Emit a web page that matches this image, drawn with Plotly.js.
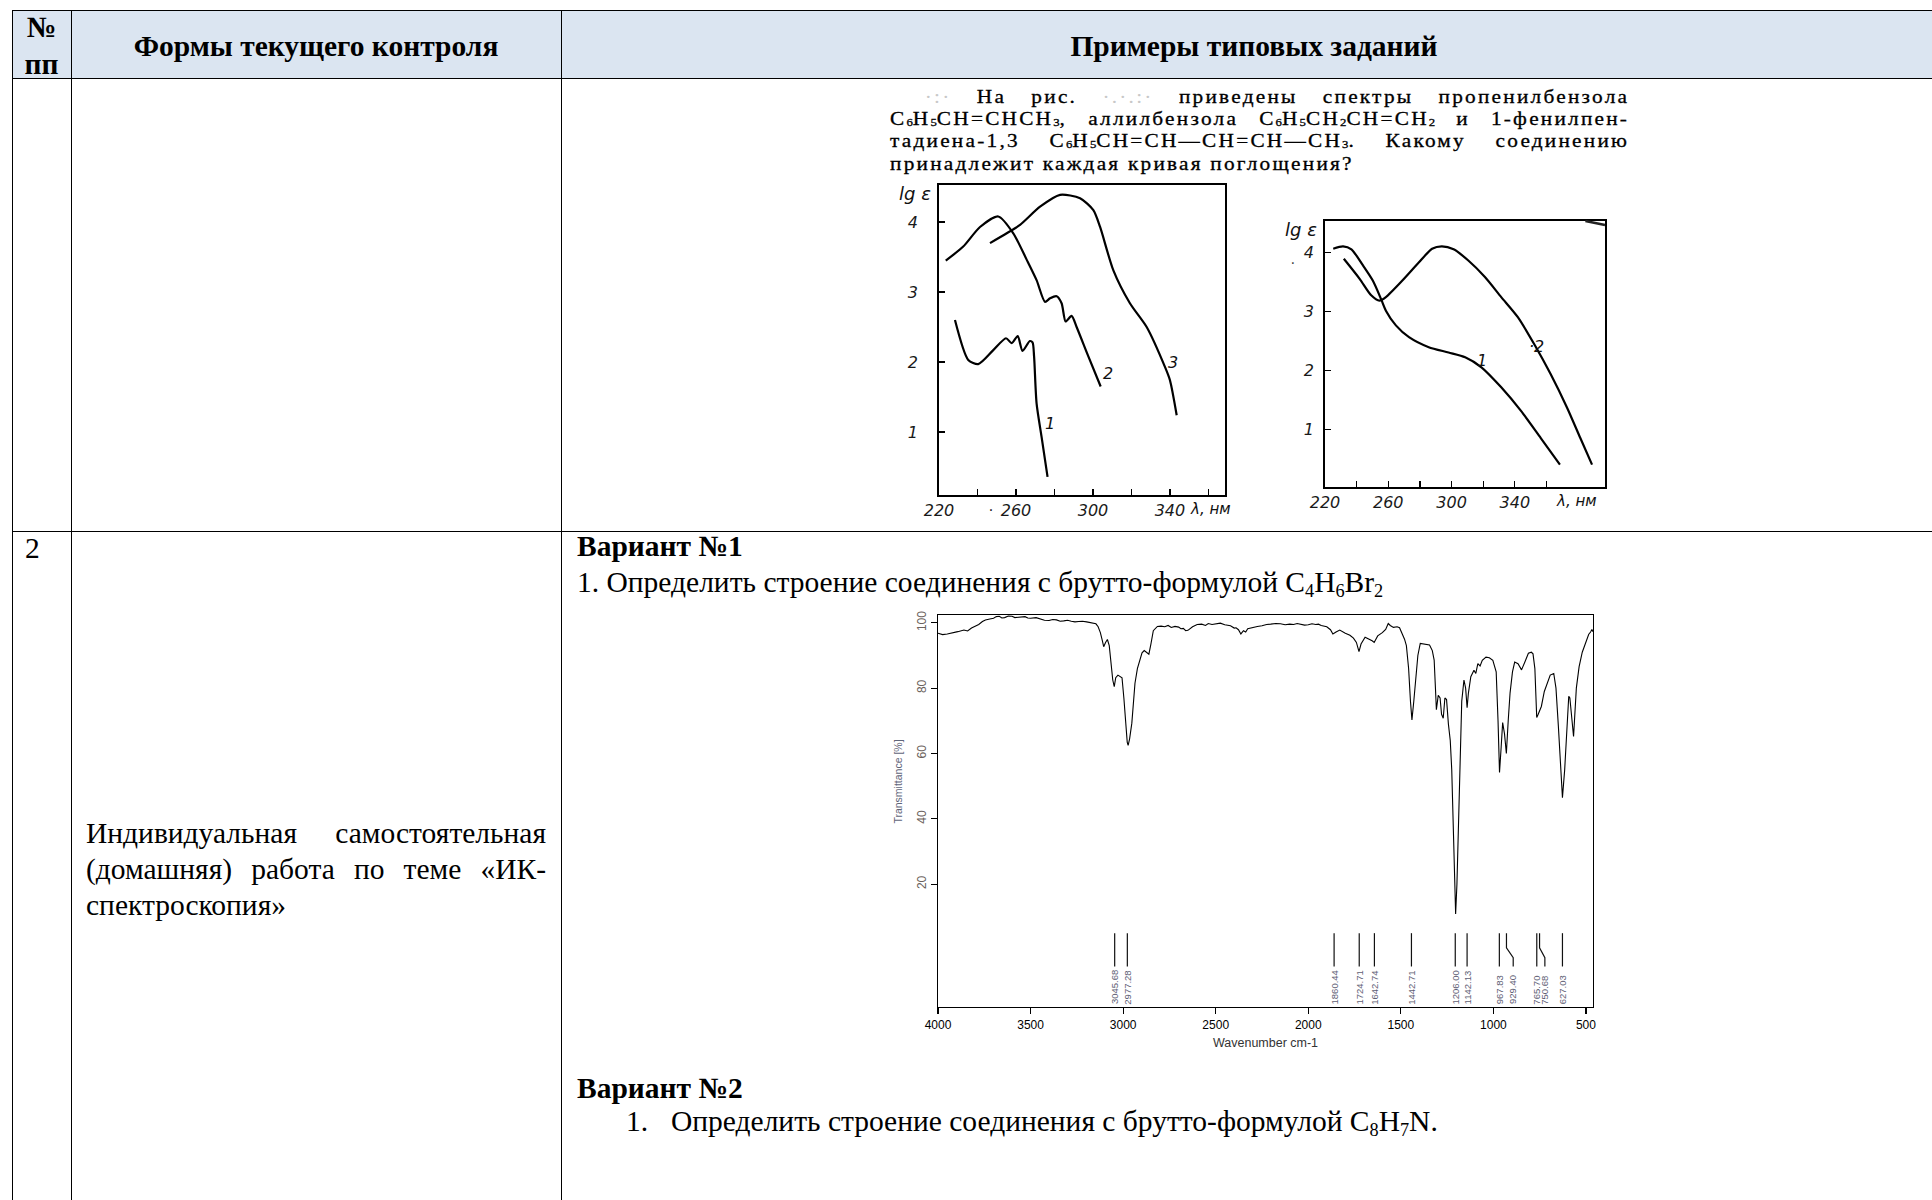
<!DOCTYPE html>
<html><head><meta charset="utf-8">
<script src="https://cdn.plot.ly/plotly-3.0.1.min.js"></script>
<style>
html,body{margin:0;padding:0;background:#fff;width:1932px;height:1200px;overflow:hidden;position:relative;}
.ln{position:absolute;background:#000;}
.t{position:absolute;white-space:nowrap;font-family:'Liberation Serif','Times New Roman',serif;font-size:29.5px;line-height:36px;color:#000;}
.b{font-weight:bold;}
.jl{position:absolute;font-family:'Liberation Serif','Times New Roman',serif;font-size:29.5px;line-height:36px;text-align:justify;text-align-last:justify;color:#000;}
.q{position:absolute;left:890px;width:660px;transform:scaleX(1.12);transform-origin:0 0;font-family:'Liberation Serif','Times New Roman',serif;font-size:19px;line-height:21px;letter-spacing:2px;text-align:justify;text-align-last:justify;color:#000;-webkit-text-stroke:0.3px #000;}
.q sub{font-size:60%;vertical-align:-0.1em;line-height:0;letter-spacing:0;}
sub{font-size:62%;vertical-align:-0.28em;line-height:0;letter-spacing:0;}
.faint{color:#c8c8c8;-webkit-text-stroke:0;}
.chart{position:absolute;}
</style>
</head><body>
<!-- table frame -->
<div style="position:absolute;left:12px;top:10px;width:1940px;height:68px;background:#dbe5f1;"></div>
<div class="ln" style="left:12px;top:10px;width:1920px;height:1px;"></div>
<div class="ln" style="left:12px;top:78px;width:1920px;height:1px;"></div>
<div class="ln" style="left:12px;top:531px;width:1920px;height:1px;"></div>
<div class="ln" style="left:12px;top:10px;width:1px;height:1190px;"></div>
<div class="ln" style="left:71px;top:10px;width:1px;height:1190px;"></div>
<div class="ln" style="left:561px;top:10px;width:1px;height:1190px;"></div>

<!-- header -->
<div class="t b" style="left:12px;width:59px;text-align:center;top:9px;">№</div>
<div class="t b" style="left:12px;width:59px;text-align:center;top:46px;">пп</div>
<div class="t b" style="left:71px;width:490px;text-align:center;top:28px;">Формы текущего контроля</div>
<div class="t b" style="left:561px;width:1386px;text-align:center;top:28px;">Примеры типовых заданий</div>

<!-- row 1: question text -->
<div class="q" style="top:86px;text-indent:31px;"><span class="faint">·:·</span> На рис. <span class="faint">·.·.:·</span> приведены спектры пропенилбензола</div>
<div class="q" style="top:108px;">C<sub>6</sub>H<sub>5</sub>CH=CHCH<sub>3</sub>, аллилбензола C<sub>6</sub>H<sub>5</sub>CH<sub>2</sub>CH=CH<sub>2</sub> и 1-фенилпен-</div>
<div class="q" style="top:130px;">тадиена-1,3 C<sub>6</sub>H<sub>5</sub>CH=CH—CH=CH—CH<sub>3</sub>. Какому соединению</div>
<div class="q" style="top:153px;text-align-last:left;">принадлежит каждая кривая поглощения?</div>

<div id="uvA" class="chart" style="left:880px;top:150px;width:380px;height:390px;"></div>
<div id="uvB" class="chart" style="left:1270px;top:190px;width:370px;height:340px;"></div>

<!-- row 2 -->
<div class="t" style="left:25px;top:530px;">2</div>
<div class="jl" style="left:86px;top:815px;width:460px;">Индивидуальная самостоятельная</div>
<div class="jl" style="left:86px;top:851px;width:460px;">(домашняя) работа по теме «ИК-</div>
<div class="t" style="left:86px;top:887px;">спектроскопия»</div>

<div class="t b" style="left:577px;top:528px;">Вариант №1</div>
<div class="t" style="left:577px;top:564px;">1. Определить строение соединения с брутто-формулой C<sub>4</sub>H<sub>6</sub>Br<sub>2</sub></div>

<div id="ir" class="chart" style="left:860px;top:590px;width:760px;height:480px;"></div>

<div class="t b" style="left:577px;top:1070px;">Вариант №2</div>
<div class="t" style="left:626px;top:1103px;">1.</div>
<div class="t" style="left:671px;top:1103px;">Определить строение соединения с брутто-формулой C<sub>8</sub>H<sub>7</sub>N.</div>

<script>
// ---------- UV chart A (left) ----------
const uvTickVals = [220, 240, 260, 280, 300, 320, 340, 360];
const uvTickText = ['220', '', '260', '', '300', '', '340', ''];
const lgTickVals = [1, 2, 3, 4];
const lgTickText = ['1', '2', '3', '4'];

const a1x = [228.3, 235.2, 240.4, 248.2, 254.8, 257.8, 260.9, 263.4, 267.2, 268.6, 269.4, 270.7, 273.3, 276.4];
const a1y = [2.60, 2.03, 1.97, 2.17, 2.34, 2.27, 2.37, 2.16, 2.30, 2.28, 2.08, 1.41, 0.93, 0.36];
const a2x = [223.5, 232.6, 241.3, 250.8, 258.6, 265.6, 270.7, 275.1, 277.7, 281.1, 283.7, 285.8, 288.9, 291.5, 297.6, 304.0];
const a2y = [3.45, 3.65, 3.93, 4.08, 3.84, 3.46, 3.17, 2.86, 2.91, 2.94, 2.84, 2.58, 2.66, 2.50, 2.08, 1.65];
const a3x = [246.5, 255.2, 262.1, 272.5, 282.9, 293.3, 300.2, 303.7, 310.6, 319.2, 327.9, 337.4, 340.0, 343.5];
const a3y = [3.70, 3.84, 3.96, 4.22, 4.39, 4.34, 4.17, 3.93, 3.31, 2.84, 2.50, 1.93, 1.74, 1.24];
const aLabels = ['1', '2', '3'];
const aLabelX = [277.8, 307.6, 341.8];
const aLabelY = [1.12, 1.84, 1.99];

// ---------- UV chart B (right) ----------
const b1x = [225.2, 231.4, 236.7, 243.9, 250.2, 255.4, 258.5, 264.8, 273.1, 285.6, 298.1, 308.6, 318.9, 331.4, 343.9, 356.4, 368.5];
const b1y = [4.06, 4.10, 4.05, 3.78, 3.52, 3.21, 3.01, 2.76, 2.56, 2.39, 2.30, 2.22, 2.05, 1.71, 1.31, 0.85, 0.40];
const b2x = [231.9, 241.9, 249.2, 254.4, 258.5, 268.9, 279.4, 287.7, 293.9, 301.3, 310.6, 321.1, 331.4, 341.9, 352.3, 362.7, 373.1, 381.4, 388.8];
const b2y = [3.89, 3.55, 3.27, 3.18, 3.24, 3.52, 3.83, 4.06, 4.10, 4.05, 3.86, 3.58, 3.24, 2.90, 2.44, 1.93, 1.36, 0.85, 0.40];
const bLabels = ['1', '·2'];
const bLabelX = [319.0, 354.0];
const bLabelY = [2.16, 2.41];

// ---------- IR spectrum ----------
const irWN = [4000,3975,3950,3920,3893,3860,3840,3819,3800,3780,3760,3744,3720,3700,3685,3669,3655,3640,3620,3600,3585,3570,3550,3530,3515,3500,3470,3446,3425,3400,3380,3360,3340,3321,3300,3280,3260,3240,3220,3197,3170,3147,3135,3123,3112,3105,3095,3085,3075,3065,3056,3048,3040,3028,3015,3006,2996,2986,2978,2973,2965,2953,2945,2936,2923,2911,2898,2886,2873,2861,2850,2837,2815,2795,2775,2757,2740,2720,2700,2688,2675,2662,2650,2637,2625,2600,2576,2555,2540,2520,2500,2475,2451,2420,2400,2390,2377,2364,2350,2338,2327,2300,2275,2250,2225,2203,2175,2150,2125,2100,2079,2060,2040,2020,2000,1980,1960,1945,1930,1900,1880,1867,1850,1830,1800,1775,1756,1740,1726,1715,1693,1670,1655,1644,1625,1600,1582,1568,1557,1540,1520,1507,1490,1480,1470,1458,1448,1440,1430,1420,1408,1395,1370,1345,1330,1320,1313,1308,1298,1288,1280,1271,1262,1253,1243,1233,1225,1216,1210,1204,1197,1189,1180,1171,1159,1150,1142,1135,1122,1105,1095,1084,1072,1060,1040,1022,1003,985,975,967,958,950,940,935,930,920,910,897,885,867,848,830,811,795,786,776,766,758,750,741,725,711,693,674,662,649,637,627,615,600,593,587,577,567,552,537,520,500,485,475,468,462];
const irT = [96.8,96.4,96.6,96.9,97.3,97.8,97.5,98.4,98.9,99.5,100.4,100.9,101.2,101.4,101.9,102.0,101.5,101.6,102.1,102.0,101.6,101.7,102.0,101.9,101.5,101.4,101.6,101.2,100.8,100.7,101.0,100.9,100.5,100.6,100.8,100.5,100.3,100.4,100.5,100.3,100.1,99.7,98.8,97.0,94.5,92.7,94.0,94.9,93.0,87.6,82.5,80.5,83.2,84.0,83.6,83.2,77.0,69.3,63.5,62.5,64.5,69.3,75.0,81.5,86.0,88.6,90.8,91.5,91.0,90.4,93.5,97.6,98.9,99.0,98.8,99.2,98.6,98.9,98.7,98.2,98.3,97.6,97.7,98.3,98.8,99.5,99.6,99.2,99.8,99.5,99.7,99.9,99.4,99.1,98.4,98.5,97.9,96.6,97.6,97.2,98.2,98.6,98.9,99.1,99.5,99.6,99.8,99.7,99.4,99.6,99.5,99.8,99.6,99.3,99.4,99.7,99.5,99.6,99.2,98.8,97.9,96.6,97.2,97.8,96.8,96.2,95.3,94.0,91.2,93.5,95.6,95.0,94.5,94.0,96.0,97.0,98.0,99.8,99.2,98.6,98.8,98.5,96.5,95.0,93.0,86.0,76.0,70.3,76.0,83.5,90.0,93.7,93.5,93.2,91.5,88.6,80.0,73.4,77.8,77.0,72.0,70.8,77.0,76.5,69.0,64.0,55.0,36.0,20.0,10.9,20.0,36.0,60.0,76.0,82.5,80.0,74.0,78.5,83.5,85.5,84.5,87.5,86.8,88.5,89.5,89.3,88.5,85.0,70.0,54.2,62.0,69.5,66.0,62.0,60.0,70.0,78.5,85.0,88.0,87.5,85.6,88.0,90.7,91.0,90.5,86.0,71.0,72.0,73.5,74.4,79.0,81.5,84.0,84.5,80.0,68.3,55.0,46.5,55.0,72.0,77.5,77.0,70.0,65.2,80.0,86.6,91.0,94.0,96.5,97.2,98.0,97.3];
const peakWN = [3045.68, 2977.28, 1860.44, 1724.71, 1642.74, 1442.71, 1206.00, 1142.13, 967.83, 929.40, 765.70, 750.68, 627.03];
const peakLabelWN = [3045.68, 2977.28, 1860.44, 1724.71, 1642.74, 1442.71, 1206.00, 1142.13, 967.83, 893.0, 765.70, 722.0, 627.03];
const irXTicks = [4000, 3500, 3000, 2500, 2000, 1500, 1000, 500];
const irYTicks = [20, 40, 60, 80, 100];

const cfg = {staticPlot: true, displayModeBar: false};
const uvFont = {family: 'DejaVu Sans, Liberation Sans, sans-serif', size: 16, color: '#1a1a1a', style: 'italic'};

function uvAxisX(range) {
  return {range: range, showline: true, mirror: true, linecolor: '#000', linewidth: 1.8,
    ticks: 'inside', ticklen: 6, tickwidth: 1.3, tickcolor: '#000', tickvals: uvTickVals, ticktext: uvTickText,
    tickfont: uvFont, showgrid: false, zeroline: false, fixedrange: true};
}
function uvAxisY(range, standoff) {
  return {range: range, showline: true, mirror: true, linecolor: '#000', linewidth: 1.8,
    ticks: 'inside', ticklen: 6, tickwidth: 1.3, tickcolor: '#000', tickvals: lgTickVals, ticktext: lgTickText,
    tickfont: uvFont, ticklabelstandoff: standoff, showgrid: false, zeroline: false, fixedrange: true};
}
function curve(x, y) {
  return {x: x, y: y, type: 'scatter', mode: 'lines', line: {color: '#000', width: 2.2, shape: 'spline', smoothing: 0.7}, hoverinfo: 'skip'};
}
function curveLabels(texts, xs, ys) {
  return texts.map((t, i) => ({text: '<i>' + t + '</i>', x: xs[i], y: ys[i], xref: 'x', yref: 'y', showarrow: false,
    font: {family: 'DejaVu Sans, sans-serif', size: 16, color: '#111'}}));
}
const lgFont = {family: 'DejaVu Sans, sans-serif', size: 18, color: '#111'};
const lamFont = {family: 'DejaVu Sans, sans-serif', size: 15, color: '#111'};

// Chart A
Plotly.newPlot('uvA', [curve(a1x, a1y), curve(a2x, a2y), curve(a3x, a3y)], {
  width: 380, height: 390, margin: {l: 59, r: 35, t: 35, b: 45},
  paper_bgcolor: 'rgba(0,0,0,0)', plot_bgcolor: 'rgba(0,0,0,0)', showlegend: false,
  xaxis: uvAxisX([220, 368.6]), yaxis: uvAxisY([0.1, 4.53], 16),
  annotations: curveLabels(aLabels, aLabelX, aLabelY).concat([
    {text: '<i>lg ε</i>', xref: 'paper', yref: 'paper', x: 0, y: 1, xanchor: 'right', yanchor: 'middle', xshift: -6, yshift: -8, showarrow: false, font: lgFont},
    {text: '<i>λ, нм</i>', xref: 'x', yref: 'paper', x: 361, y: 0, yanchor: 'top', yshift: -3, showarrow: false, font: lamFont},
    {text: '·', xref: 'x', yref: 'paper', x: 247, y: 0, yanchor: 'top', yshift: -2, showarrow: false, font: {size: 15, color: '#111'}}
  ])
}, cfg);

// Chart B
Plotly.newPlot('uvB', [curve(b1x, b1y), curve(b2x, b2y)], {
  width: 370, height: 340, margin: {l: 55, r: 35, t: 31, b: 43},
  paper_bgcolor: 'rgba(0,0,0,0)', plot_bgcolor: 'rgba(0,0,0,0)', showlegend: false,
  xaxis: uvAxisX([220, 397]), yaxis: uvAxisY([0.02, 4.53], 6),
  shapes: [{type: 'line', xref: 'paper', yref: 'paper', x0: 0.93, x1: 1.0, y0: 1.0, y1: 0.985, line: {color: '#222', width: 2.5}}],
  annotations: curveLabels(bLabels, bLabelX, bLabelY).concat([
    {text: '<i>lg ε</i>', xref: 'paper', yref: 'paper', x: 0, y: 1, xanchor: 'right', yanchor: 'middle', xshift: -6, yshift: -8, showarrow: false, font: lgFont},
    {text: '<i>λ, нм</i>', xref: 'x', yref: 'paper', x: 379, y: 0, yanchor: 'top', yshift: -3, showarrow: false, font: lamFont},
    {text: '.', xref: 'paper', yref: 'y', x: 0, y: 3.9, xanchor: 'right', xshift: -28, showarrow: false, font: {size: 14, color: '#333'}}
  ])
}, cfg);

// IR chart
const pkX = [], pkY = [];
peakWN.forEach((w, i) => {
  const lw = peakLabelWN[i];
  if (lw === w) { pkX.push(w, w, null); pkY.push(5, -5.2, null); }
  else { pkX.push(w, w, lw, lw, null); pkY.push(5, 0.5, -2.5, -5.2, null); }
});
const pkAnn = peakWN.map((w, i) => ({text: w.toFixed(2), x: peakLabelWN[i], y: -17.4, xref: 'x', yref: 'y',
  textangle: -90, xanchor: 'center', yanchor: 'bottom', showarrow: false,
  font: {family: 'Liberation Sans, Arial, sans-serif', size: 9.5, color: '#5e5e74'}}));
pkAnn.push({text: 'Transmittance [%]', xref: 'paper', yref: 'paper', x: 0, y: 0.575, xanchor: 'right', yanchor: 'middle',
  xshift: -32, textangle: -90, showarrow: false, font: {family: 'Liberation Sans, Arial, sans-serif', size: 10.5, color: '#5f6579'}});

Plotly.newPlot('ir', [
  {x: irWN, y: irT, type: 'scatter', mode: 'lines', line: {color: '#000', width: 1.1}, hoverinfo: 'skip'},
  {x: pkX, y: pkY, type: 'scatter', mode: 'lines', line: {color: '#111', width: 1.2}, hoverinfo: 'skip', connectgaps: false}
], {
  width: 760, height: 480, margin: {l: 78, r: 27, t: 25, b: 63},
  paper_bgcolor: 'rgba(0,0,0,0)', plot_bgcolor: 'rgba(0,0,0,0)', showlegend: false,
  font: {family: 'Liberation Sans, Arial, sans-serif'},
  xaxis: {range: [4000, 462], showline: true, mirror: true, linecolor: '#000', linewidth: 1.2,
    ticks: 'outside', ticklen: 6, tickwidth: 1.1, tickcolor: '#000', tickvals: irXTicks,
    tickfont: {size: 12, color: '#000'}, showgrid: false, zeroline: false,
    title: {text: 'Wavenumber cm-1', font: {size: 12.5, color: '#333'}, standoff: 7}},
  yaxis: {range: [-17.6, 102.4], showline: true, mirror: true, linecolor: '#000', linewidth: 1.2,
    ticks: 'outside', ticklen: 6, tickwidth: 1.1, tickcolor: '#000', tickvals: irYTicks, tickangle: -90,
    tickfont: {size: 12, color: '#6b625c'}, showgrid: false, zeroline: false},
  annotations: pkAnn
}, cfg);
</script>
</body></html>
